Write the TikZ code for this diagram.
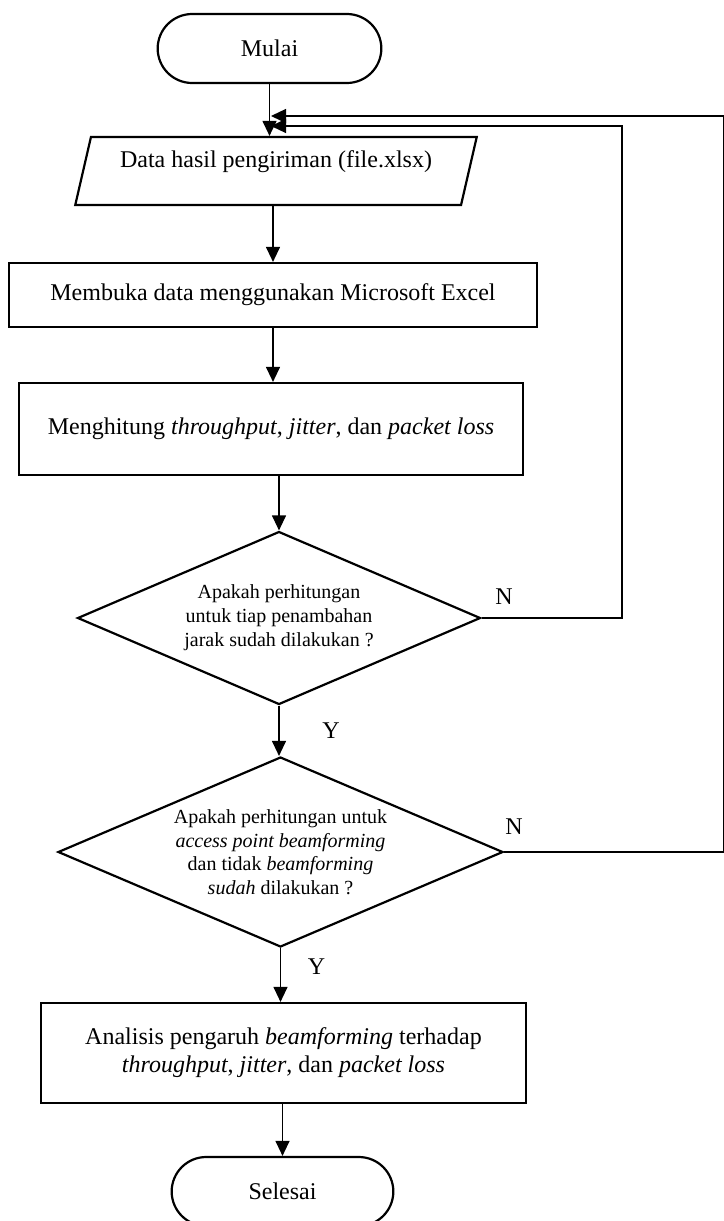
\documentclass[tikz,border=0pt]{standalone}
\usepackage{fontspec}
\setmainfont{Liberation Serif}
\usepackage{tikz}
\usetikzlibrary{shapes.geometric}
\usetikzlibrary{positioning, arrows.meta, shapes}

\begin{document}
\begin{tikzpicture}[x=0.5pt, y=-0.5pt, node distance=62pt,
    terminal/.style={draw, rounded rectangle, line width=1.1pt, minimum height=34.5pt, font=\fontsize{12}{14}\selectfont},
    dataio/.style={draw, trapezium, trapezium left angle=76, trapezium right angle=104, trapezium stretches=true, line width=1.1pt, font=\fontsize{12}{14}\selectfont},
    proses/.style={draw, rectangle, line width=1.1pt, align=center, font=\fontsize{12}{14}\selectfont},
    keputusan/.style={draw, diamond, inner sep=0pt, line width=1.1pt, align=center},
    panah/.style={-{Triangle[length=7.5pt,width=7pt]}, line width=0.6pt},
    lbl/.style={font=\fontsize{12}{14}\selectfont}]
  \useasboundingbox (0,0) rectangle (723,1221);

  % Mulai
  \node[terminal, minimum width=118.5pt] (mulai) at (269.5,48.5) {Mulai};

  % Data input
  \node[dataio, minimum width=201pt, minimum height=34pt, text height=8.5pt, text depth=12.5pt,
    below of=mulai, xshift=3.25pt, yshift=0.75pt] (data) {Data hasil pengiriman (file.xlsx)};

  % Membuka data
  \node[proses, minimum width=264pt, minimum height=32pt, below of=data, xshift=-1.5pt] (buka)
    {Membuka data menggunakan Microsoft Excel};

  % Menghitung
  \node[proses, minimum width=252pt, minimum height=46pt, below of=buka, xshift=-1pt, yshift=-5pt] (hitung)
    {Menghitung \textit{throughput}, \textit{jitter}, dan \textit{packet loss}};

  % Keputusan jarak
  \node[keputusan, aspect=2.33, minimum width=201.5pt, minimum height=86.5pt, font=\fontsize{10}{12}\selectfont,
    below of=hitung, xshift=4pt, yshift=-32.5pt] (cek1)
    {Apakah perhitungan\\untuk tiap penambahan\\jarak sudah dilakukan ?};

  % Keputusan beamforming
  \node[keputusan, aspect=2.34, minimum width=222.5pt, minimum height=95pt, font=\fontsize{10}{11.75}\selectfont,
    below of=cek1, xshift=0.75pt, yshift=-55pt] (cek2)
    {Apakah perhitungan untuk\\\textit{access point beamforming}\\dan tidak \textit{beamforming}\\\textit{sudah} dilakukan ?};

  % Analisis
  \node[proses, minimum width=242.5pt, minimum height=50pt, below of=cek2, xshift=1.5pt, yshift=-38.5pt] (analisis)
    {Analisis pengaruh \textit{beamforming} terhadap\\\textit{throughput}, \textit{jitter}, dan \textit{packet loss}};

  % Selesai
  \node[terminal, minimum width=117.5pt, below of=analisis, xshift=-0.5pt, yshift=-7.25pt] (selesai) {Selesai};

  % titik balik
  \coordinate (balik1) at (622,126);
  \coordinate (balik2) at (724,116);
  \coordinate (masuk1) at (271,126);
  \coordinate (masuk2) at (271,116);

  % Alur
  \draw[panah] (mulai.south) -- (mulai.south |- data.north);
  \draw[panah] (buka.north |- data.south) -- (buka.north);
  \draw[panah] (buka.south) -- (buka.south |- hitung.north);
  \draw[panah] (cek1.north |- hitung.south) -- (cek1.north);
  \draw[panah] (cek1.south) -- node[right=18pt, lbl] {Y} (cek1.south |- cek2.north);
  \draw[panah] (cek2.south) -- node[pos=0.35, right=10pt, lbl] {Y} (cek2.south |- analisis.north);
  \draw[panah] (selesai.north |- analisis.south) -- (selesai.north);

  % Perulangan
  \draw[panah] (cek1.east) -- node[pos=0.16, above=3pt, lbl] {N} (cek1.east -| balik1) -- (balik1) -- (masuk1);
  \draw[panah] (cek2.east) -- node[pos=0.045, above=5pt, lbl] {N} (cek2.east -| balik2) -- (balik2) -- (masuk2);
\end{tikzpicture}
\end{document}
